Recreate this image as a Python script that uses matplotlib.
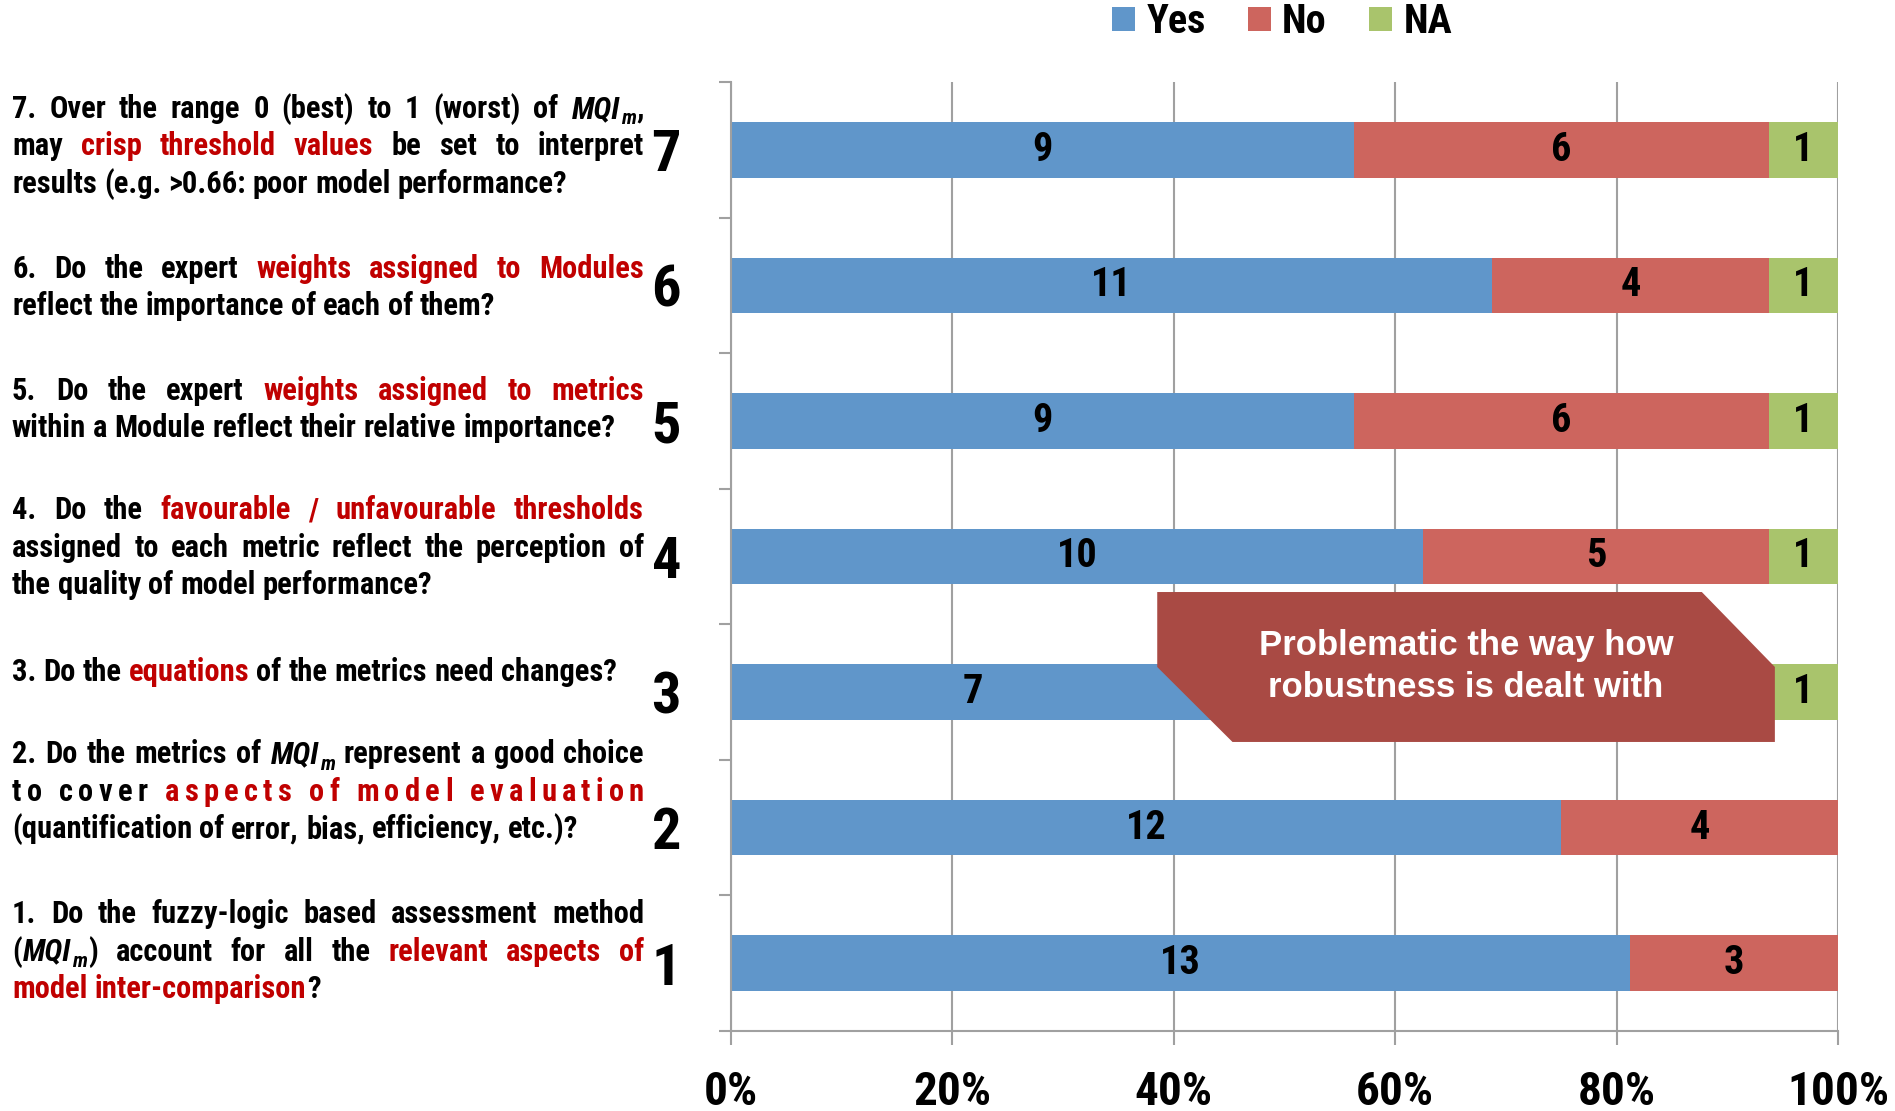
import matplotlib
matplotlib.use('Agg')
import numpy as np
import matplotlib.pyplot as plt
import matplotlib.transforms as mtransforms
from matplotlib import font_manager
from matplotlib.patches import Polygon

# answers per question, question 1 at the bottom
questions = ['1', '2', '3', '4', '5', '6', '7']
yes = [13, 12, 7, 10, 9, 11, 9]
no = [3, 4, 8, 5, 6, 4, 6]
na = [0, 0, 1, 1, 1, 1, 1]
series = ['Yes', 'No', 'NA']
colors = ['#6096CA', '#CD655E', '#A9C46C']
xticks = [0, 20, 40, 60, 80, 100]
xtick_labels = ['0%', '20%', '40%', '60%', '80%', '100%']

# question texts: {..} = red words, ^ = letter-spaced line
texts = [
    ["1. Do the fuzzy-logic based assessment method",
     "(MQI_m) account for all the {relevant aspects of}",
     "{model inter-comparison}?"],
    ["2. Do the metrics of MQI_m represent a good choice",
     "^to cover {aspects of model evaluation}",
     "(quantification of error, bias, efficiency, etc.)?"],
    ["3. Do the {equations} of the metrics need changes?"],
    ["4. Do the {favourable / unfavourable thresholds}",
     "assigned to each metric reflect the perception of",
     "the quality of model performance?"],
    ["5. Do the expert {weights assigned to metrics}",
     "within a Module reflect their relative importance?"],
    ["6. Do the expert {weights assigned to Modules}",
     "reflect the importance of each of them?"],
    ["7. Over the range 0 (best) to 1 (worst) of MQI_m,",
     "may {crisp threshold values} be set to interpret",
     "results (e.g. >0.66: poor model performance?"],
]
text_shift = [0.10, 0.28, 0.16, 0.08, 0.10, 0.0, 0.04]
callout = 'Problematic the way how\nrobustness is dealt with'

# prefer a narrow bold face, otherwise shrink the regular one
names = set(f.name for f in font_manager.fontManager.ttflist)
FONT, NARROW = 'Liberation Sans', 0.86
for cand in ['Liberation Sans Narrow', 'Arial Narrow', 'Roboto Condensed']:
    if cand in names:
        FONT, NARROW = cand, 1.0
        break
plt.rcParams['font.family'] = [FONT, 'DejaVu Sans']
plt.rcParams['font.weight'] = 'bold'

RED = '#C00000'
GRAY = '#A0A0A0'

fig = plt.figure(figsize=(18.95, 11.11), dpi=100)
ax = fig.add_axes([0.3858, 0.0720, 0.5841, 0.8542])

total = np.array(yes) + np.array(no) + np.array(na)
y = np.arange(len(questions))
left = np.zeros(len(questions))
for name, vals, c in zip(series, [yes, no, na], colors):
    vals = np.array(vals)
    pct = vals / total * 100
    bars = ax.barh(y, pct, left=left, height=0.41, color=c, label=name, zorder=2)
    ax.bar_label(bars, labels=[str(v) if v else '' for v in vals], label_type='center',
                 fontsize=29 * NARROW, fontweight='bold', color='black')
    left += pct

ax.set_xlim(0, 100)
ax.set_ylim(-0.5, 6.5)
ax.set_xticks(xticks, xtick_labels)
ax.set_yticks(y, questions)
ax.set_yticks(np.arange(-0.5, 7, 1), minor=True)
ax.tick_params(axis='x', length=10, width=1.5, color=GRAY, labelsize=34 * NARROW, pad=18)
ax.tick_params(axis='y', which='major', length=0, labelsize=42 * NARROW, pad=36)
ax.tick_params(axis='y', which='minor', length=9, width=1.5, color=GRAY)
ax.xaxis.grid(True, color=GRAY, lw=1.5)
ax.set_axisbelow(True)
for s in ['top', 'right']:
    ax.spines[s].set_visible(False)
for s in ['left', 'bottom']:
    ax.spines[s].set_color(GRAY)
    ax.spines[s].set_linewidth(1.5)

lfs = 29 * NARROW
fig.legend(loc='center', bbox_to_anchor=(0.6765, 0.980), ncol=3, frameon=False,
           fontsize=lfs, handlelength=23 / (lfs * 100 / 72), handleheight=23 / (lfs * 100 / 72),
           handletextpad=0.28, columnspacing=1.05, borderpad=0)

# callout box with two snipped corners
box = Polygon([(38.5, 2.738), (87.7, 2.738), (94.3, 2.185), (94.3, 1.632),
               (45.3, 1.632), (38.5, 2.185)], closed=True,
              facecolor='#A94A44', edgecolor='none', zorder=5)
ax.add_patch(box)
ax.text(66.4, 2.19, callout, ha='center', va='center', color='white',
        family=['Liberation Sans', 'DejaVu Sans'],
        fontsize=25, fontweight='bold', linespacing=1.35, zorder=6)

# ---- justified question texts (pixel coordinates) ----
renderer = fig.canvas.get_renderer()
ident = mtransforms.IdentityTransform()
FS = 22 * NARROW
SUB_FS = FS * 0.68
X0, X1 = 12, 644
LINE_PX = 37.5
CAP_PX = FS * 100 / 72 * 0.716


def piece_kw(p):
    kw = dict(fontsize=FS, fontweight='bold', color=RED if p['red'] else 'black')
    if p['style'] in 'is':
        kw['fontstyle'] = 'italic'
    if p['style'] == 's':
        kw['fontsize'] = SUB_FS
    return kw


def text_w(s, **kw):
    t = fig.text(0, 0, s, transform=ident, **kw)
    w = t.get_window_extent(renderer).width
    t.remove()
    return w


def split_pieces(txt, red):
    out = []
    while 'MQI_m' in txt:
        pre, txt = txt.split('MQI_m', 1)
        if pre:
            out.append(dict(text=pre, red=red, style='n'))
        out.append(dict(text='MQI', red=red, style='i'))
        out.append(dict(text='m', red=red, style='s'))
    if txt:
        out.append(dict(text=txt, red=red, style='n'))
    return out


def parse_line(s):
    words = []
    red = False
    for raw in s.split(' '):
        pieces = []
        buf = ''
        for ch in raw:
            if ch in '{}':
                if buf:
                    pieces += split_pieces(buf, red)
                    buf = ''
                red = ch == '{'
            else:
                buf += ch
        if buf:
            pieces += split_pieces(buf, red)
        words.append(pieces)
    return words


def word_w(pieces):
    return sum(text_w(p['text'], **piece_kw(p)) + 1 for p in pieces) - 1


def draw_word(pieces, x, base):
    for p in pieces:
        dy = -0.3 * CAP_PX if p['style'] == 's' else 0
        kw = piece_kw(p)
        fig.text(x, base + dy, p['text'], transform=ident, va='baseline', ha='left', **kw)
        x += text_w(p['text'], **kw) + 1


space_w = text_w('a a', fontsize=FS, fontweight='bold') - text_w('aa', fontsize=FS, fontweight='bold')

for k, lines in enumerate(texts):
    yc = ax.transData.transform((0, k + text_shift[k]))[1]
    n = len(lines)
    for i, line in enumerate(lines):
        base = yc + ((n - 1) / 2 - i) * LINE_PX - CAP_PX / 2
        last = i == n - 1
        if line.startswith('^'):
            units = []
            for j, w in enumerate(parse_line(line[1:])):
                if j:
                    units.append(None)
                for p in w:
                    for ch in p['text']:
                        units.append([dict(p, text=ch)])
            widths = [space_w if u is None else word_w(u) for u in units]
            gap = (X1 - X0 - sum(widths)) / (len(units) - 1)
            x = X0
            for u, w in zip(units, widths):
                if u is not None:
                    draw_word(u, x, base)
                x += w + gap
        else:
            words = parse_line(line)
            widths = [word_w(w) for w in words]
            if last or len(words) == 1:
                gap = space_w
            else:
                gap = max(space_w * 0.6, (X1 - X0 - sum(widths)) / (len(words) - 1))
            x = X0
            for w, ww in zip(words, widths):
                draw_word(w, x, base)
                x += ww + gap

fig.savefig('out.png', dpi=100)
